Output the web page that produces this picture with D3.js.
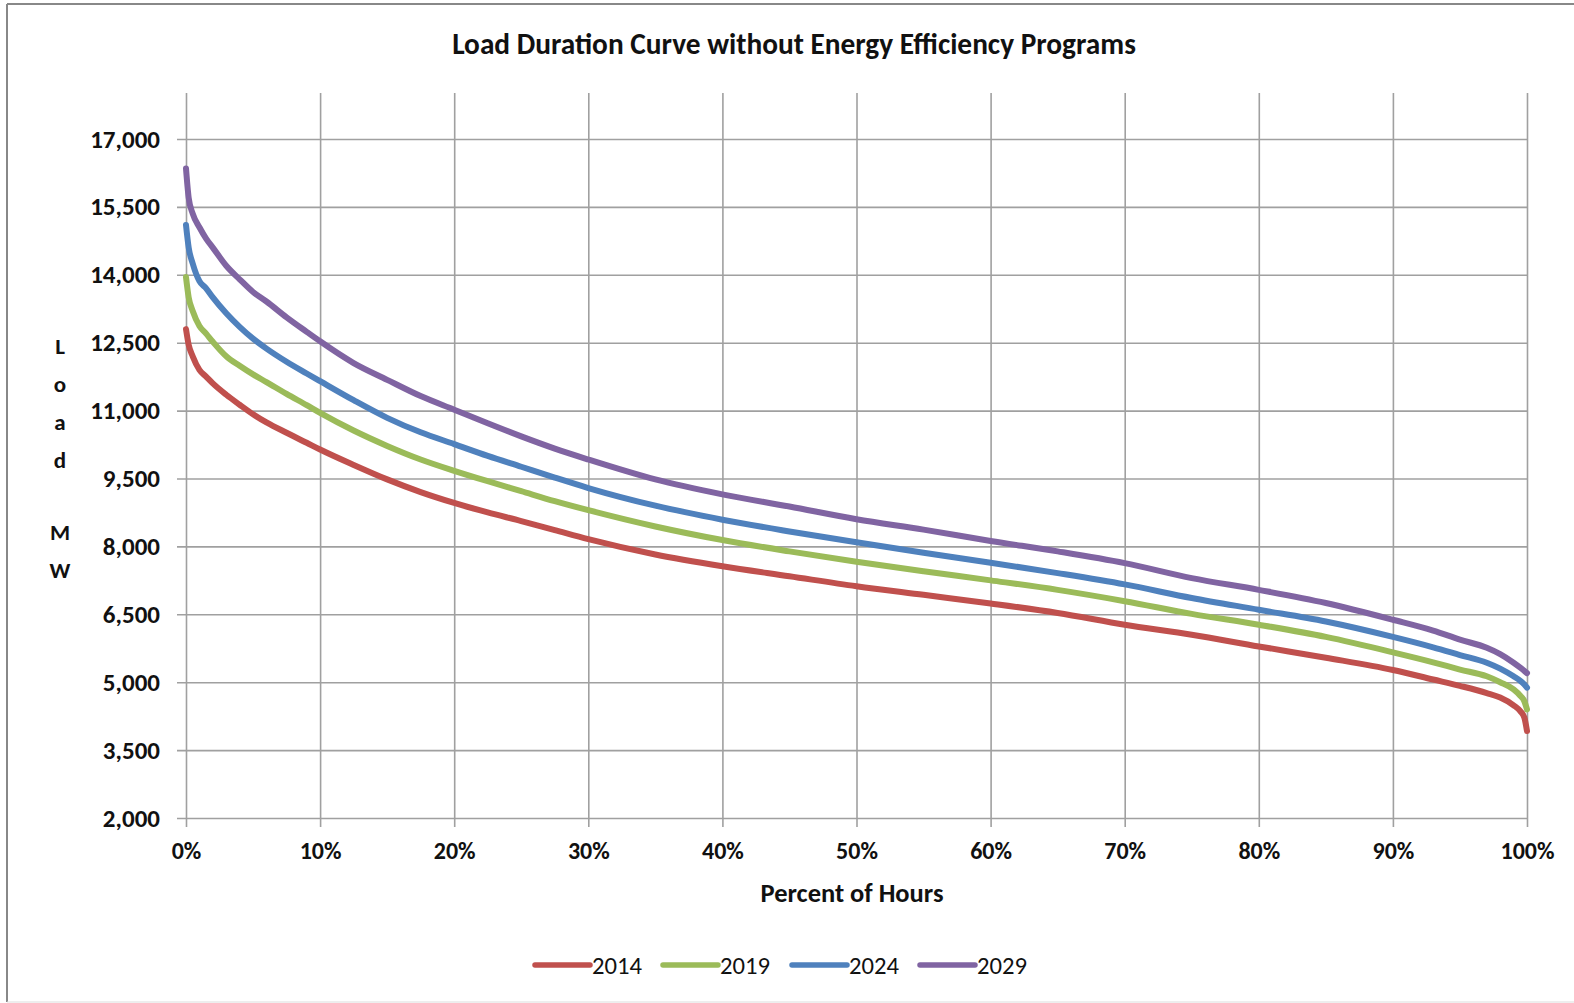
<!DOCTYPE html>
<html>
<head>
<meta charset="utf-8">
<script src="https://cdn.jsdelivr.net/npm/d3@7/dist/d3.min.js"></script>
<style>
  html, body { margin: 0; padding: 0; background: #fff; }
  svg { display: block; }
  text { font-family: Carlito, Lato, "Open Sans", sans-serif; fill: #111; }
</style>
</head>
<body>
<svg id="chart" width="1574" height="1003"></svg>
<script>
// ---- data ----
const percentOfHours = [0, 0.2, 0.5, 1, 1.5, 2, 3, 4, 5, 6, 7.5, 9, 10, 12.5, 15, 17.5, 20, 22.5, 25, 27.5, 30, 35, 40, 45, 50, 55, 60, 65, 70, 75, 80, 85, 90, 93, 95, 97, 98, 99, 99.5, 99.8, 100];
const load2014 = [12800, 12450, 12200, 11900, 11750, 11600, 11350, 11130, 10920, 10740, 10510, 10290, 10140, 9800, 9480, 9200, 8960, 8750, 8560, 8360, 8160, 7820, 7560, 7340, 7120, 6930, 6740, 6530, 6270, 6050, 5790, 5540, 5270, 5060, 4920, 4760, 4660, 4490, 4360, 4220, 3920];
const load2019 = [13950, 13500, 13200, 12870, 12700, 12520, 12200, 11990, 11800, 11630, 11370, 11120, 10950, 10560, 10220, 9920, 9670, 9440, 9220, 9000, 8800, 8440, 8140, 7890, 7660, 7450, 7250, 7040, 6790, 6510, 6270, 6000, 5660, 5440, 5280, 5130, 5000, 4840, 4700, 4580, 4400];
const load2024 = [15100, 14600, 14250, 13860, 13700, 13500, 13150, 12850, 12590, 12370, 12080, 11820, 11650, 11230, 10840, 10520, 10260, 10000, 9760, 9520, 9290, 8900, 8590, 8330, 8090, 7860, 7640, 7410, 7160, 6860, 6600, 6340, 6000, 5770, 5600, 5430, 5300, 5130, 5030, 4950, 4880];
const load2029 = [16350, 15700, 15350, 15050, 14800, 14600, 14200, 13900, 13620, 13410, 13060, 12740, 12530, 12050, 11680, 11320, 11020, 10720, 10430, 10160, 9920, 9480, 9150, 8880, 8600, 8370, 8120, 7890, 7630, 7300, 7040, 6750, 6380, 6140, 5940, 5760, 5620, 5430, 5320, 5250, 5200];
const seriesNames = ["2014", "2019", "2024", "2029"];
const seriesColors = ["#C0504D", "#9BBB59", "#4F81BD", "#8064A2"];
const yTicks = [2000, 3500, 5000, 6500, 8000, 9500, 11000, 12500, 14000, 15500, 17000];
const xTicks = [0, 10, 20, 30, 40, 50, 60, 70, 80, 90, 100];
const titleText = "Load Duration Curve without Energy Efficiency Programs";
const xTitle = "Percent of Hours";
const yTitleLetters = ["L", "o", "a", "d", "", "M", "W"];

const allSeries = [load2014, load2019, load2024, load2029];

// ---- layout ----
const svg = d3.select("#chart");
const plotLeft = 186, plotRight = 1527, plotTop = 93, plotBottom = 818;

const x = d3.scaleLinear().domain([0, 100]).range([plotLeft, plotRight]);
const y = d3.scaleLinear().domain([2000, 18000]).range([plotBottom, plotBottom - (16000 / 1500) * 67.9]);

// frame
svg.append("line").attr("x1", 7).attr("x2", 7).attr("y1", 4).attr("y2", 1002)
  .attr("stroke", "#888").attr("stroke-width", 2);
svg.append("line").attr("x1", 7).attr("x2", 1574).attr("y1", 4).attr("y2", 4)
  .attr("stroke", "#888").attr("stroke-width", 2);
svg.append("line").attr("x1", 7).attr("x2", 1574).attr("y1", 1002).attr("y2", 1002)
  .attr("stroke", "#ddd").attr("stroke-width", 1);

// fit-width helper
function fitText(sel, targetWidth) {
  const n = sel.node();
  const w = n.getComputedTextLength();
  const fs = parseFloat(sel.attr("font-size"));
  if (w > 0) sel.attr("font-size", (fs * targetWidth / w).toFixed(2));
}

// horizontal gridlines (y axis)
const yAxis = d3.axisLeft(y).tickValues(yTicks).tickSize(-(plotRight - plotLeft)).tickSizeOuter(0)
  .tickFormat(d3.format(",")).tickPadding(26);
const gy = svg.append("g").attr("transform", `translate(${plotLeft},0)`).call(yAxis);
gy.select(".domain").remove();
gy.selectAll(".tick line").attr("stroke", "#a0a0a0").attr("stroke-width", 1.6)
  .attr("x1", -9);
gy.selectAll(".tick text").attr("font-size", 25).attr("font-weight", "bold")
  .style("font-family", "Carlito, Lato, sans-serif").attr("fill", "#111");

// vertical gridlines (x axis)
const xAxis = d3.axisBottom(x).tickValues(xTicks).tickSize(-(plotBottom - plotTop)).tickSizeOuter(0)
  .tickFormat(d => d + "%").tickPadding(24);
const gx = svg.append("g").attr("transform", `translate(0,${plotBottom})`).call(xAxis);
gx.select(".domain").remove();
gx.selectAll(".tick line").attr("stroke", "#a0a0a0").attr("stroke-width", 1.6).attr("y1", 9);
gx.selectAll(".tick text").attr("font-size", 24).attr("font-weight", "bold")
  .style("font-family", "Carlito, Lato, sans-serif").attr("fill", "#111");

// lines
const line = d3.line()
  .x((d, i) => x(percentOfHours[i]))
  .y(d => y(d))
  .curve(d3.curveMonotoneX);

svg.append("g").selectAll("path").data(allSeries).join("path")
  .attr("d", d => line(d))
  .attr("fill", "none")
  .attr("stroke", (d, i) => seriesColors[i])
  .attr("stroke-width", 6)
  .attr("stroke-linejoin", "round")
  .attr("stroke-linecap", "round");

// title
const t = svg.append("text").attr("x", 794).attr("y", 54).attr("text-anchor", "middle")
  .attr("font-size", 22).attr("font-weight", "bold").text(titleText);
fitText(t, 684);

// x title
const xt = svg.append("text").attr("x", 852).attr("y", 902).attr("text-anchor", "middle")
  .attr("font-size", 22).attr("font-weight", "bold").text(xTitle);
fitText(xt, 183);

// y title (stacked letters)
const yPos = [346, 384, 422, 460, 496, 532, 570];
yTitleLetters.forEach((c, i) => {
  if (!c) return;
  svg.append("text").attr("x", 60).attr("y", yPos[i] + 8).attr("text-anchor", "middle")
    .attr("font-size", 23).attr("font-weight", "bold").text(c);
});

// legend
const legendX = [535, 663, 792, 920];
const legend = svg.append("g");
seriesNames.forEach((name, i) => {
  legend.append("line").attr("x1", legendX[i]).attr("x2", legendX[i] + 55)
    .attr("y1", 965).attr("y2", 965)
    .attr("stroke", seriesColors[i]).attr("stroke-width", 5.5).attr("stroke-linecap", "round");
  const lt = legend.append("text").attr("x", legendX[i] + 57).attr("y", 974)
    .attr("font-size", 23).text(name);
  fitText(lt, 50);
});
</script>
</body>
</html>
